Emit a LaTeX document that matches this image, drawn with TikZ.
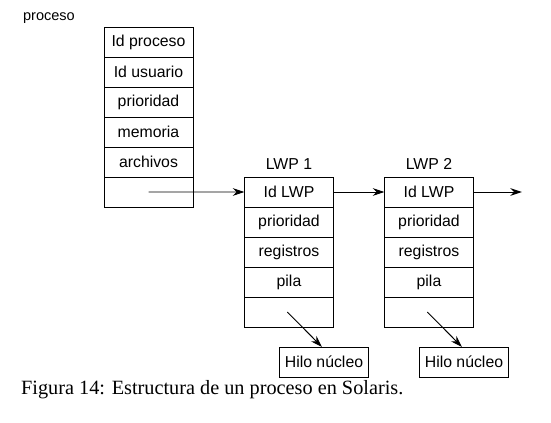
\documentclass[tikz,border=0pt]{standalone}
\usepackage{fontspec}
\setmainfont{Liberation Sans}
\newfontfamily\capfont{Liberation Serif}
\usetikzlibrary{arrows.meta,positioning}

\tikzset{
  celda/.style={draw, thick, minimum width=2.67cm, minimum height=0.9cm,
    inner sep=0pt, outer sep=0pt, font=\fontsize{13.5}{15}\selectfont},
  flecha/.style={->, thick}
}

\begin{document}
\begin{tikzpicture}[x=0.03cm, y=-0.03cm, >={Stealth[length=10pt,width=6.5pt]}]
        \useasboundingbox (0,0) rectangle (551,423);

        % Proceso
        \node[anchor=west, font=\fontsize{12.4}{14}\selectfont] (tit) at (19,18) {proceso};
        \node[celda] (p1) at (148.5,42) {Id proceso};
        \node[celda, below=0pt of p1] (p2) {Id usuario};
        \node[celda, below=0pt of p2] (p3) {prioridad};
        \node[celda, below=0pt of p3] (p4) {memoria};
        \node[celda, below=0pt of p4] (p5) {archivos};
        \node[celda, below=0pt of p5] (p6) {};

        % LWP 1
        \node[celda] (a1) at (289,192) {Id LWP};
        \node[celda, below=0pt of a1] (a2) {prioridad};
        \node[celda, below=0pt of a2] (a3) {registros};
        \node[celda, below=0pt of a3] (a4) {pila};
        \node[celda, below=0pt of a4] (a5) {};
        \node[above=3pt of a1, font=\fontsize{13.5}{15}\selectfont] (la) {LWP 1};

        % LWP 2
        \node[celda] (b1) at (429,192) {Id LWP};
        \node[celda, below=0pt of b1] (b2) {prioridad};
        \node[celda, below=0pt of b2] (b3) {registros};
        \node[celda, below=0pt of b3] (b4) {pila};
        \node[celda, below=0pt of b4] (b5) {};
        \node[above=3pt of b1, font=\fontsize{13.5}{15}\selectfont] (lb) {LWP 2};

        % Hilos del nucleo
        \node[celda] (h1) at (324,362) {Hilo núcleo};
        \node[celda] (h2) at (464,362) {Hilo núcleo};

        % Enlaces
        \coordinate (fin) at (522,192);
        \draw[flecha] (p6.center) -- (a1.west);
        \draw[flecha] (a1.east) -- (b1.west);
        \draw[flecha] (b1.east) -- (fin);
        \draw[flecha] ([xshift=-0.05cm]a5.center) -- ([xshift=-0.06cm]h1.north);
        \draw[flecha] ([xshift=-0.05cm]b5.center) -- ([xshift=-0.06cm]h2.north);

        % Leyenda
        \node[anchor=west, font=\capfont\fontsize{17.3}{20}\selectfont] (cap) at (17,390)
          {Figura 14: Estructura de un proceso en Solaris.};
    \end{tikzpicture}
\end{document}
